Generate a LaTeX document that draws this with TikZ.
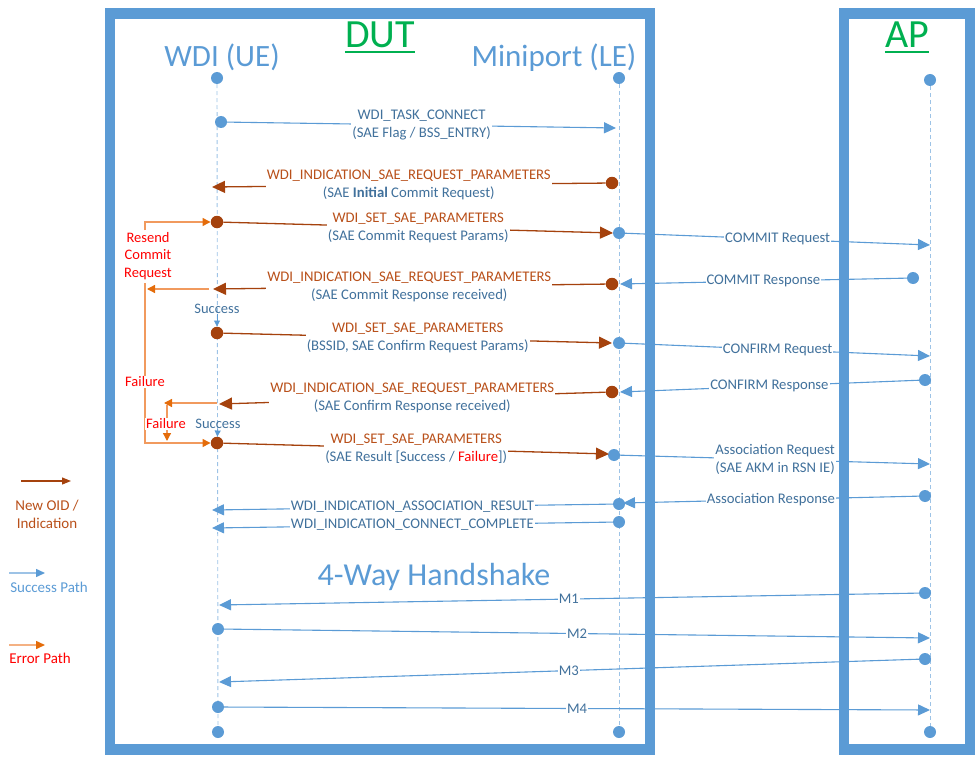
\documentclass[tikz,border=0pt]{standalone}
\usepackage{fontspec}
\setmainfont{Carlito}
\usetikzlibrary{arrows.meta}
\definecolor{boxblue}{HTML}{5B9BD5}
\definecolor{lifeblue}{HTML}{9DC3E6}
\definecolor{msgblue}{HTML}{5B9BD5}
\definecolor{tblue}{HTML}{41719C}
\definecolor{brownc}{HTML}{A5420D}
\definecolor{browntext}{HTML}{B9501A}
\definecolor{orangel}{HTML}{F19A5E}
\definecolor{oranged}{HTML}{E46C0A}
\definecolor{greent}{HTML}{00B050}
\definecolor{redt}{HTML}{FF0000}
\definecolor{legorange}{HTML}{F4B183}
\newcommand{\myfs}[2]{\fontsize{#1}{#2}\selectfont}
\newcommand{\bt}[1]{\textcolor{browntext}{#1}}
\begin{document}
\begin{tikzpicture}[x=1pt,y=-1pt,
  lifeline/.style={draw=lifeblue, line width=0.9pt, dash pattern=on 4pt off 3pt},
  dotb/.style={circle, fill=boxblue, inner sep=0pt, minimum size=12pt},
  dotr/.style={circle, fill=brownc, inner sep=0pt, minimum size=12.5pt},
  bmsg/.style={draw=msgblue, line width=1.1pt, -{Triangle[length=12pt,width=11pt]}},
  rmsg/.style={draw=brownc, line width=1.3pt, -{Triangle[length=13pt,width=12pt]}},
  omsg/.style={draw=orangel, line width=1.3pt, -{Triangle[length=8pt,width=8pt,color=oranged]}},
  sarrow/.style={draw=boxblue, line width=0.8pt, -{Triangle[length=6pt,width=6pt]}},
  lbl/.style={fill=white, inner sep=1pt, align=center, text=tblue, font=\myfs{14.7}{18}},
  redlbl/.style={fill=white, inner sep=1pt, align=center, text=redt, font=\myfs{14.5}{17.5}},
  succ/.style={inner sep=0pt, text=tblue, font=\myfs{14.5}{17}},
  bigtitle/.style={anchor=base, inner sep=0pt, text=greent, font=\myfs{40}{44}},
  lifetitle/.style={anchor=base, inner sep=0pt, text=boxblue, font=\myfs{31}{34}},
  ul/.style={draw=greent, line width=2.5pt},
  boxline/.style={draw=boxblue, line width=10.5pt},
  legtext/.style={inner sep=0pt, align=center, font=\myfs{15}{18}}
]
\useasboundingbox (0,0) rectangle (977,757);

% lifelines
\node[dotb] (t1) at (217,78) {};
\node[dotb] (t2) at (619,78) {};
\node[dotb] (t3) at (930,80) {};
\node[dotb] (b1) at (218,732) {};
\node[dotb] (b2) at (619,732) {};
\node[dotb] (b3) at (930,732) {};
\draw[lifeline] (t1) -- (b1);
\draw[lifeline] (t2) -- (b2);
\draw[lifeline] (t3) -- (b3);

% titles
\node[bigtitle] (dut) at (380,48) {DUT};
\draw[ul] ([yshift=-4pt]dut.base west) -- ([yshift=-4pt]dut.base east);
\node[bigtitle] (ap) at (907,48) {AP};
\draw[ul] ([yshift=-4pt]ap.base west) -- ([yshift=-4pt]ap.base east);
\node[lifetitle] (wdi) at (222,67) {WDI (UE)};
\node[lifetitle] (mini) at (554,67) {Miniport (LE)};

% 1 WDI_TASK_CONNECT
\node[dotb] (m1s) at (221,122) {};
\coordinate (m1e) at (616,128);
\draw[bmsg] (m1s) -- node[lbl] (m1l) {WDI\_TASK\_CONNECT\\(SAE Flag / BSS\_ENTRY)} (m1e);

% 2 indication initial commit
\node[dotr] (m2s) at (612,183) {};
\coordinate (m2e) at (212,187);
\draw[rmsg] (m2s) -- node[lbl] (m2l) {\bt{WDI\_INDICATION\_SAE\_REQUEST\_PARAMETERS}\\(SAE \textbf{Initial} Commit Request)} (m2e);

% 3 set commit
\node[dotr] (m3s) at (217,222) {};
\node[dotb] (m3b) at (619,233) {};
\coordinate (m3e) at (613,233);
\draw[rmsg] (m3s) -- node[lbl] (m3l) {\bt{WDI\_SET\_SAE\_PARAMETERS}\\(SAE Commit Request Params)} (m3e);
\coordinate (cr1e) at (930,245);
\draw[bmsg] (m3b) -- node[lbl] (cr1l) {COMMIT Request} (cr1e);

% commit response
\node[dotb] (cr2s) at (913,278) {};
\coordinate (cr2e) at (620,284);
\draw[bmsg] (cr2s) -- node[lbl] (cr2l) {COMMIT Response} (cr2e);

% 4 indication commit response
\node[dotr] (m4s) at (612,284) {};
\coordinate (m4e) at (213,289);
\draw[rmsg] (m4s) -- node[lbl] (m4l) {\bt{WDI\_INDICATION\_SAE\_REQUEST\_PARAMETERS}\\(SAE Commit Response received)} (m4e);
\coordinate (o1s) at (209,289);
\coordinate (o1e) at (147,289);
\draw[omsg] (o1s) -- (o1e);

% 5 set confirm
\node[dotr] (m5s) at (217,333) {};
\node[dotb] (m5b) at (619,343) {};
\coordinate (m5e) at (612,343);
\draw[rmsg] (m5s) -- node[lbl] (m5l) {\bt{WDI\_SET\_SAE\_PARAMETERS}\\(BSSID, SAE Confirm Request Params)} (m5e);
\coordinate (cf1e) at (930,356);
\draw[bmsg] (m5b) -- node[lbl] (cf1l) {CONFIRM Request} (cf1e);

% confirm response
\node[dotb] (cf2s) at (925,380) {};
\coordinate (cf2e) at (620,392);
\draw[bmsg] (cf2s) -- node[lbl] (cf2l) {CONFIRM Response} (cf2e);

% 6 indication confirm response
\node[dotr] (m6s) at (612,392) {};
\coordinate (m6e) at (219,404);
\coordinate (o2s) at (217,403);
\coordinate (o2e) at (164,403);
\draw[omsg] (o2s) -- (o2e);
\draw[rmsg] (m6s) -- node[lbl] (m6l) {\bt{WDI\_INDICATION\_SAE\_REQUEST\_PARAMETERS}\\(SAE Confirm Response received)} (m6e);
\coordinate (o3s) at (167,405);
\coordinate (o3e) at (167,441);
\draw[omsg] (o3s) -- (o3e);

% 7 set result
\node[dotr] (m7s) at (217,443) {};
\node[dotb] (m7b) at (614,455) {};
\coordinate (m7e) at (609,454);
\draw[rmsg] (m7s) -- node[lbl] (m7l) {\bt{WDI\_SET\_SAE\_PARAMETERS}\\(SAE Result [Success / \textcolor{redt}{Failure}])} (m7e);
\coordinate (ar1e) at (930,464);
\draw[bmsg] (m7b) -- node[lbl] (ar1l) {Association Request\\(SAE AKM in RSN IE)} (ar1e);

% association response
\node[dotb] (ar2s) at (925,496) {};
\node[dotb] (m8s) at (619,504) {};
\coordinate (ar2e) at (623,503);
\draw[bmsg] (ar2s) -- node[lbl] (ar2l) {Association Response} (ar2e);

% 8 association result / connect complete
\coordinate (m8e) at (212,510);
\draw[bmsg] (m8s) -- node[lbl] (m8l) {WDI\_INDICATION\_ASSOCIATION\_RESULT} (m8e);
\node[dotb] (m9s) at (619,522) {};
\coordinate (m9e) at (212,528);
\draw[bmsg] (m9s) -- node[lbl] (m9l) {WDI\_INDICATION\_CONNECT\_COMPLETE} (m9e);

% resend / failure loop
\coordinate (rtop) at (145,230);
\draw[omsg] (rtop) |- (m3s);
\coordinate (rbot) at (145,283);
\draw[omsg] (rbot) |- (m7s);
\node[redlbl] (resend) at (148,256) {Resend\\Commit\\Request};
\node[redlbl] (fail1) at (145,382) {Failure};
\node[redlbl] (fail2) at (166,424) {Failure};

% success markers
\node[succ] (s1) at (217,309) {Success};
\draw[sarrow] (s1) -- (m5s);
\node[succ] (s2) at (218,424) {Success};
\draw[sarrow] (s2) -- (m7s);

% 4-way handshake
\node[anchor=base, inner sep=0pt, text=boxblue, font=\myfs{32}{35}] (hs) at (434,585) {4-Way Handshake};
\node[dotb] (k1s) at (925,593) {};
\coordinate (k1e) at (219,605);
\draw[bmsg] (k1s) -- node[lbl] (k1l) {M1} (k1e);
\node[dotb] (k2s) at (218,629) {};
\coordinate (k2e) at (930,638);
\draw[bmsg] (k2s) -- node[lbl] (k2l) {M2} (k2e);
\node[dotb] (k3s) at (925,659) {};
\coordinate (k3e) at (219,682);
\draw[bmsg] (k3s) -- node[lbl] (k3l) {M3} (k3e);
\node[dotb] (k4s) at (218,707) {};
\coordinate (k4e) at (930,710);
\draw[bmsg] (k4s) -- node[lbl] (k4l) {M4} (k4e);

% boxes
\draw[boxline] (110,13.5) rectangle (650,749.5);
\draw[boxline] (844,13.5) rectangle (970,749.5);

% legend
\coordinate (lg1s) at (21,481);
\coordinate (lg1e) at (71,481);
\draw[draw=brownc, line width=1.2pt, -{Triangle[length=9pt,width=7pt]}] (lg1s) -- (lg1e);
\node[legtext, text=browntext] (lg1t) at (47,514) {New OID /\\Indication};
\coordinate (lg2s) at (9,573);
\coordinate (lg2e) at (45,573);
\draw[draw=lifeblue, line width=1.5pt, -{Triangle[length=9pt,width=8pt,color=boxblue]}] (lg2s) -- (lg2e);
\node[legtext, text=boxblue] (lg2t) at (49,587) {Success Path};
\coordinate (lg3s) at (9,645);
\coordinate (lg3e) at (45,645);
\draw[draw=legorange, line width=1.5pt, -{Triangle[length=9pt,width=8pt,color=oranged]}] (lg3s) -- (lg3e);
\node[legtext, text=redt] (lg3t) at (40,658) {Error Path};
\end{tikzpicture}
\end{document}
